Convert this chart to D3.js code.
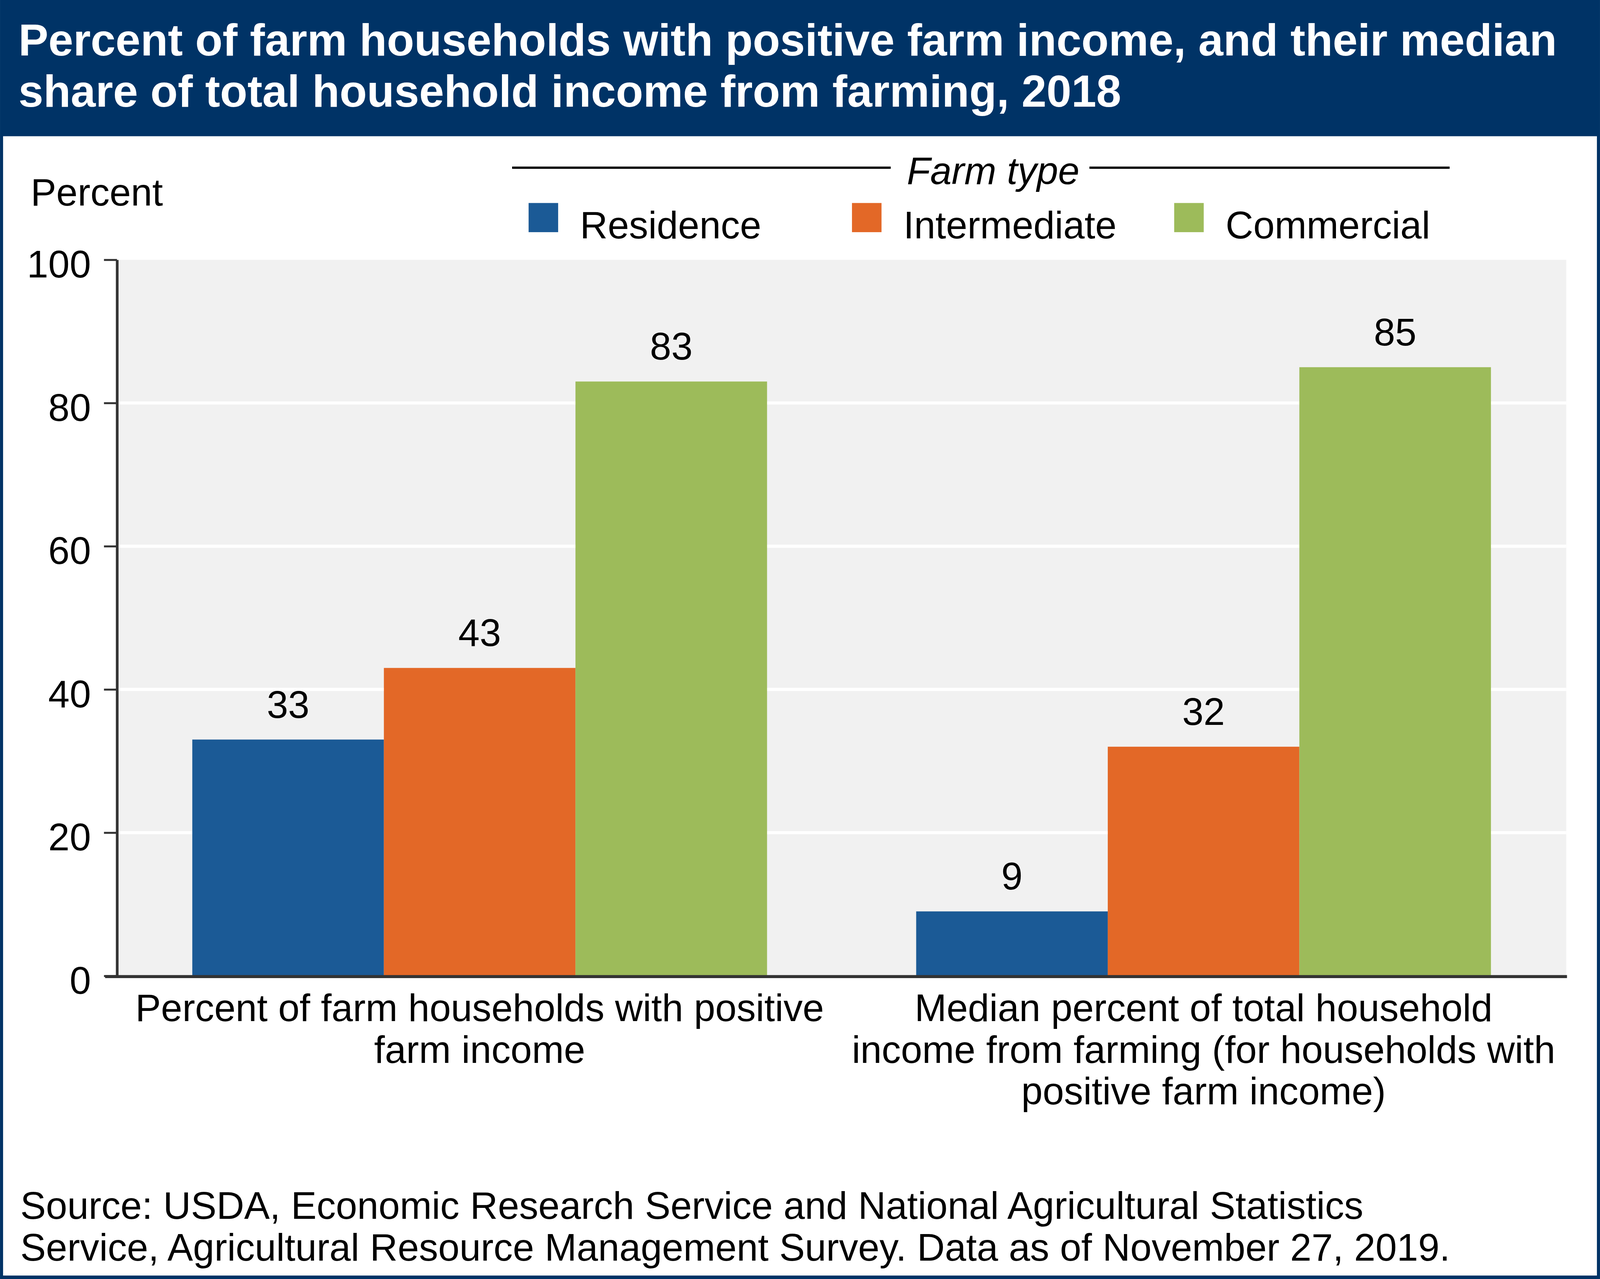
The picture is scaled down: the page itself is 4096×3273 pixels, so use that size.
<!DOCTYPE html>
<html>
<head>
<meta charset="utf-8">
<script src="https://cdn.jsdelivr.net/npm/d3@7"></script>
<style>
  html, body { margin: 0; padding: 0; background: #fff; }
  svg { display: block; }
  text { font-family: "Liberation Sans", Arial, sans-serif; }
</style>
</head>
<body>
<div id="chart"></div>
<script>
// data
const groups = ["Percent of farm households with positive farm income",
                "Median percent of total household income from farming (for households with positive farm income)"];
const groupLines = [
  ["Percent of farm households with positive", "farm income"],
  ["Median percent of total household", "income from farming (for households with", "positive farm income)"]
];
const farmTypes = ["Residence", "Intermediate", "Commercial"];
const residence = [33, 9];
const intermediate = [43, 32];
const commercial = [83, 85];
const yTicks = [0, 20, 40, 60, 80, 100];

const colors = ["#1b5a96", "#e36827", "#9dbb5a"];
const navy = "#003366";

// reference-size canvas, scaled to window via viewBox
const W = 4171, H = 3333;
const svg = d3.select('#chart').append('svg')
  .attr('width', 4096).attr('height', 3273)
  .attr('viewBox', `0 0 ${W} ${H}`);

// frame + title bar
svg.append('rect').attr('width', W).attr('height', H).attr('fill', navy);
svg.append('rect').attr('x', 8).attr('y', 355).attr('width', W - 16).attr('height', H - 355 - 9).attr('fill', '#fff');

const title = svg.append('text').attr('fill', '#fff').attr('font-weight', 'bold').attr('font-size', 116.8);
title.append('tspan').attr('x', 48).attr('y', 145).text('Percent of farm households with positive farm income, and their median');
title.append('tspan').attr('x', 48).attr('y', 278).text('share of total household income from farming, 2018');

// plot area
const m = { left: 305, right: 4083, top: 677, bottom: 2543 };

const y = d3.scaleLinear().domain([0, 100]).range([m.bottom, m.top]);
const x0 = d3.scaleBand().domain(groups).range([m.left, m.right])
  .paddingInner(0.206).paddingOuter(0.104);
const x1 = d3.scaleBand().domain(farmTypes).range([0, x0.bandwidth()]);

svg.append('rect').attr('x', m.left).attr('y', m.top)
  .attr('width', m.right - m.left).attr('height', m.bottom - m.top).attr('fill', '#f1f1f1');

svg.append('g').selectAll('line').data(yTicks.filter(d => d > 0 && d < 100)).join('line')
  .attr('x1', m.left).attr('x2', m.right)
  .attr('y1', d => y(d)).attr('y2', d => y(d))
  .attr('stroke', '#fff').attr('stroke-width', 8);

// bars
const series = [residence, intermediate, commercial];
const rows = groups.map((g, i) => farmTypes.map((t, j) => ({ g, t, v: series[j][i], c: colors[j] })));

const gg = svg.append('g').selectAll('g').data(rows).join('g')
  .attr('transform', d => `translate(${x0(d[0].g)},0)`);

gg.selectAll('rect').data(d => d).join('rect')
  .attr('x', d => x1(d.t)).attr('width', x1.bandwidth())
  .attr('y', d => y(d.v)).attr('height', d => y(0) - y(d.v))
  .attr('fill', d => d.c);

gg.selectAll('text').data(d => d).join('text')
  .attr('x', d => x1(d.t) + x1.bandwidth() / 2)
  .attr('y', d => y(d.v) - 57)
  .attr('text-anchor', 'middle').attr('font-size', 100).attr('fill', '#000')
  .text(d => d.v);

// y axis
const yAxis = svg.append('g').attr('transform', `translate(${m.left},0)`)
  .call(d3.axisLeft(y).tickValues(yTicks).tickSize(34).tickSizeOuter(0).tickPadding(34));
yAxis.select('.domain').attr('stroke', '#333').attr('stroke-width', 7);
yAxis.selectAll('.tick line').attr('stroke', '#333').attr('stroke-width', 5);
yAxis.selectAll('.tick text').attr('font-size', 100).attr('fill', '#000')
  .attr('font-family', '"Liberation Sans", Arial, sans-serif')
  .attr('dy', null).attr('y', 46);

// x baseline
svg.append('line').attr('x1', 274).attr('x2', 4085)
  .attr('y1', m.bottom + 2).attr('y2', m.bottom + 2)
  .attr('stroke', '#333').attr('stroke-width', 8);

// x category labels
svg.append('g').selectAll('text').data(groups).join('text')
  .attr('text-anchor', 'middle').attr('font-size', 100).attr('fill', '#000')
  .each(function(d, i) {
    const cx = x0(d) + x0.bandwidth() / 2;
    d3.select(this).selectAll('tspan').data(groupLines[i]).join('tspan')
      .attr('x', cx).attr('y', (l, k) => 2661 + k * 108.5).text(l => l);
  });

// y label
svg.append('text').attr('x', 80).attr('y', 536).attr('font-size', 100).text('Percent');

// legend
svg.append('text').attr('x', 2589).attr('y', 480).attr('text-anchor', 'middle')
  .attr('font-size', 100).attr('font-style', 'italic').text('Farm type');
svg.append('line').attr('x1', 1335).attr('x2', 2322).attr('y1', 437).attr('y2', 437)
  .attr('stroke', '#000').attr('stroke-width', 6);
svg.append('line').attr('x1', 2840).attr('x2', 3779).attr('y1', 437).attr('y2', 437)
  .attr('stroke', '#000').attr('stroke-width', 6);

const legX = [1378, 2221, 3061];
const leg = svg.append('g').selectAll('g').data(farmTypes).join('g')
  .attr('transform', (d, i) => `translate(${legX[i]},529)`);
leg.append('rect').attr('width', 77).attr('height', 76).attr('fill', (d, i) => colors[i]);
leg.append('text').attr('x', 134).attr('y', 92).attr('font-size', 100).text(d => d);

// source
const src = svg.append('text').attr('font-size', 100).attr('fill', '#000');
src.append('tspan').attr('x', 53).attr('y', 3176)
  .text('Source: USDA, Economic Research Service and National Agricultural Statistics');
src.append('tspan').attr('x', 53).attr('y', 3285)
  .text('Service, Agricultural Resource Management Survey. Data as of November 27, 2019.');
</script>
</body>
</html>
